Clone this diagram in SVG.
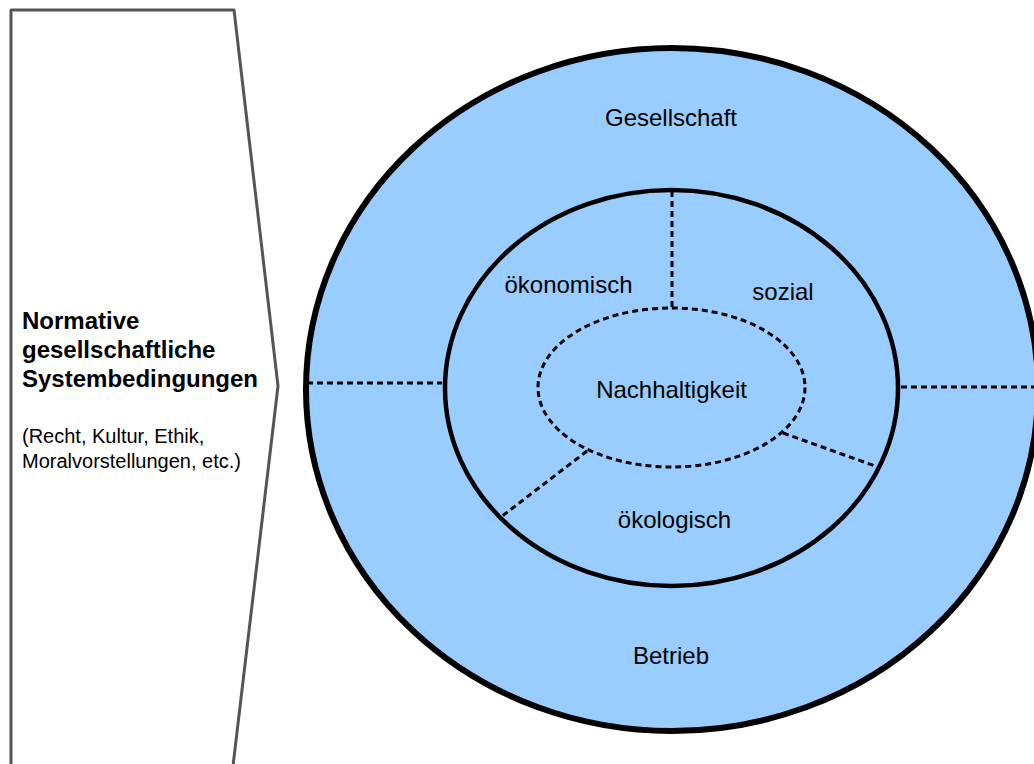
<svg xmlns="http://www.w3.org/2000/svg" width="1034" height="764" viewBox="0 0 1034 764">
  <style>
    .lbl { font-family: "Liberation Sans", Arial, sans-serif; font-size: 24px; fill: #000; text-anchor: middle; }
    .head { font-family: "Liberation Sans", Arial, sans-serif; font-size: 24px; font-weight: bold; fill: #000; }
    .note { font-family: "Liberation Sans", Arial, sans-serif; font-size: 20px; fill: #000; }
    .dash { fill: none; stroke: #000; stroke-width: 3; stroke-dasharray: 6 4; }
  </style>
  <rect width="1034" height="764" fill="#fff"/>

  <!-- Left frame: normative system conditions -->
  <g id="frame">
    <path d="M11,766 L11,10 L234,10 L278,386 L233,766" fill="#fff" stroke="#555" stroke-width="3" stroke-linejoin="round"/>
    <text class="head" x="22" y="329">Normative</text>
    <text class="head" x="22" y="358">gesellschaftliche</text>
    <text class="head" x="22" y="387">Systembedingungen</text>
    <text class="note" x="22" y="443">(Recht, Kultur, Ethik,</text>
    <text class="note" x="22" y="468">Moralvorstellungen, etc.)</text>
  </g>

  <!-- Outer ring -->
  <g id="outer">
    <ellipse cx="672" cy="389.5" rx="366" ry="341.5" fill="#99ccff" stroke="#000" stroke-width="6"/>
    <text class="lbl" x="671" y="126">Gesellschaft</text>
    <text class="lbl" x="671" y="664">Betrieb</text>
  </g>

  <!-- Inner ring -->
  <g id="inner">
    <ellipse cx="671.5" cy="388" rx="226.5" ry="198" fill="#99ccff" stroke="#000" stroke-width="4.5"/>
    <text class="lbl" x="568.5" y="293">ökonomisch</text>
    <text class="lbl" x="783" y="300">sozial</text>
    <text class="lbl" x="674.5" y="528">ökologisch</text>
  </g>

  <!-- Core -->
  <g id="core">
    <ellipse class="dash" cx="671.5" cy="387.5" rx="133.5" ry="79.5"/>
    <text class="lbl" x="671.5" y="398">Nachhaltigkeit</text>
  </g>

  <!-- Dividers -->
  <g id="connectors">
    <line class="dash" x1="307" y1="383" x2="442" y2="383"/>
    <line class="dash" x1="901" y1="387" x2="1034" y2="387"/>
    <line class="dash" x1="672" y1="191" x2="672" y2="308"/>
    <line class="dash" x1="587" y1="451" x2="501" y2="517"/>
    <line class="dash" x1="783" y1="433" x2="878" y2="467"/>
  </g>
</svg>
